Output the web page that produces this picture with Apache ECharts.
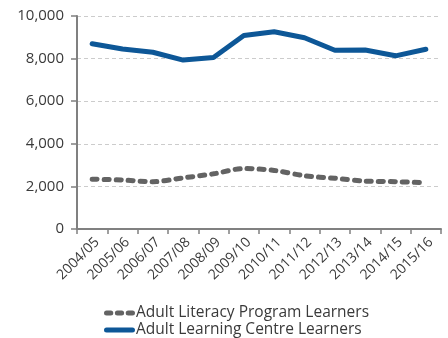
<!DOCTYPE html>
<html>
<head>
<meta charset="utf-8">
<style>
  html, body { margin: 0; padding: 0; background: #ffffff; }
  #chart { width: 448px; height: 338px; }
</style>
<script src="https://cdn.jsdelivr.net/npm/echarts@6/dist/echarts.min.js"></script>
</head>
<body>
<div id="chart"></div>
<script>
// Fiscal years
const years = ['2004/05', '2005/06', '2006/07', '2007/08', '2008/09', '2009/10',
               '2010/11', '2011/12', '2012/13', '2013/14', '2014/15', '2015/16'];

// Learner counts per year
const literacyLearners = [2340, 2300, 2220, 2400, 2590, 2840, 2750, 2500, 2380, 2250, 2220, 2170];
const centreLearners   = [8700, 8450, 8300, 7930, 8050, 9080, 9260, 8980, 8390, 8400, 8130, 8440];

const seriesNames = ['Adult Literacy Program Learners', 'Adult Learning Centre Learners'];

const FONT = '"Open Sans", Roboto, sans-serif';
const GREY = '#636363';
const BLUE = '#0d5797';

// Pill-shaped legend keys (30 x 5): three short dashes, and one solid bar
const pill = (x, w) =>
  `M${x + 2.5},0 H${x + w - 2.5} A2.5,2.5 0 0 1 ${x + w - 2.5},5 H${x + 2.5} A2.5,2.5 0 0 1 ${x + 2.5},0 Z`;
const dashedKey = 'path://' + pill(0, 9) + ' ' + pill(10.5, 9) + ' ' + pill(21, 9);
const solidKey = 'path://' + pill(0, 30);

const chart = echarts.init(document.getElementById('chart'), null, { renderer: 'canvas' });

chart.setOption({
  animation: false,
  backgroundColor: '#ffffff',
  grid: { left: 77, right: 7, top: 16, bottom: 109, containLabel: false },
  legend: {
    orient: 'vertical',
    left: 99,
    bottom: -5,
    itemWidth: 31,
    itemHeight: 5,
    itemGap: 1,
    symbolKeepAspect: false,
    textStyle: { fontFamily: FONT, fontSize: 15.5, color: '#3a3a3a', padding: [0, 0, 0, -4] },
    data: [
      { name: seriesNames[0], icon: dashedKey, itemStyle: { color: GREY } },
      { name: seriesNames[1], icon: solidKey, itemStyle: { color: BLUE } }
    ]
  },
  xAxis: {
    type: 'category',
    data: years,
    boundaryGap: true,
    axisLine: { lineStyle: { color: '#808080', width: 2 } },
    axisTick: { show: true, length: 5, lineStyle: { color: '#808080', width: 1.5 } },
    axisLabel: {
      rotate: 45,
      interval: 0,
      margin: 6,
      verticalAlign: 'top',
      fontFamily: FONT,
      fontSize: 14,
      color: '#3a3a3a'
    },
    splitLine: { show: false }
  },
  yAxis: {
    type: 'value',
    min: 0,
    max: 10000,
    interval: 2000,
    axisLine: { show: true, lineStyle: { color: '#808080', width: 2 } },
    axisTick: { show: true, length: 6, lineStyle: { color: '#808080', width: 1.5 } },
    axisLabel: {
      margin: 13,
      fontFamily: FONT,
      fontSize: 15,
      color: '#3a3a3a',
      formatter: v => v.toLocaleString('en-US')
    },
    splitLine: { show: true, lineStyle: { color: '#cccccc', type: [4, 3], width: 1 } }
  },
  series: [
    {
      name: seriesNames[0],
      type: 'line',
      data: literacyLearners,
      smooth: 0.3,
      showSymbol: false,
      symbol: 'none',
      color: GREY,
      lineStyle: { color: GREY, width: 5, type: [5, 7], cap: 'round' },
      z: 3
    },
    {
      name: seriesNames[1],
      type: 'line',
      data: centreLearners,
      showSymbol: false,
      symbol: 'none',
      color: BLUE,
      lineStyle: { color: BLUE, width: 5, cap: 'round' },
      z: 4
    }
  ]
});
</script>
</body>
</html>
